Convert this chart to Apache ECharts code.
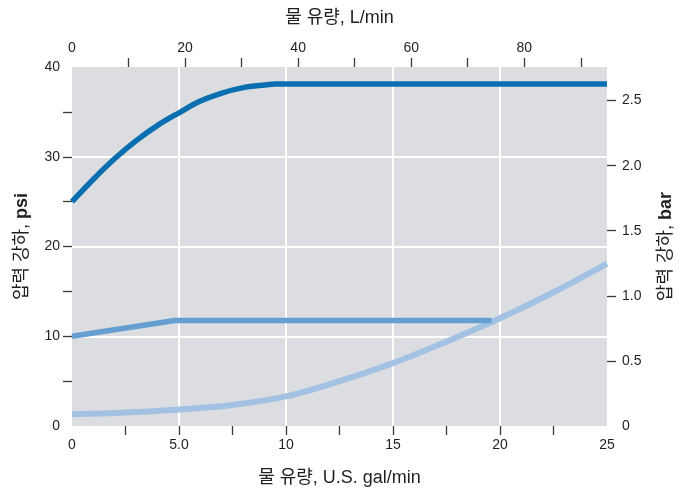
<!DOCTYPE html>
<html>
<head>
<meta charset="utf-8">
<script src="https://cdn.jsdelivr.net/npm/echarts@6/dist/echarts.min.js"></script>
<style>html,body{margin:0;padding:0;background:#fff}#c{width:687px;height:492px}</style>
</head>
<body>
<div id="c"></div>
<script>
// Flow rate (U.S. gal/min) and pressure drop (psi)
const darkX = [0, 1, 2, 3, 4, 5, 6, 7, 8, 9, 9.5, 25];
const darkY = [25.0, 27.5, 29.8, 31.8, 33.5, 34.9, 36.2, 37.1, 37.7, 38.0, 38.1, 38.1];
const midX = [0, 4.8, 19.6];
const midY = [10.0, 11.75, 11.75];
const lightX = [0, 2.5, 5, 7.5, 10, 12.5, 15, 17.5, 20, 22.5, 25];
const lightY = [1.3, 1.5, 1.85, 2.35, 3.3, 5.0, 7.0, 9.4, 12.0, 14.9, 18.1];

const galTicks = [2.5, 5, 7.5, 10, 12.5, 15, 17.5, 20, 22.5];
const galLabels = [0, 5, 10, 15, 20, 25];
const lpmTicks = [10, 20, 30, 40, 50, 60, 70, 80, 90];
const lpmLabels = [0, 20, 40, 60, 80];
const psiTicks = [5, 10, 15, 20, 25, 30, 35];
const psiLabels = [0, 10, 20, 30, 40];
const barTicks = [0.5, 1.0, 1.5, 2.0, 2.5];
const barLabels = [0, 0.5, 1.0, 1.5, 2.0, 2.5];

const GAL_MAX = 25, PSI_MAX = 40;
const LPM_MAX = GAL_MAX * 3.78541;
const BAR_MAX = PSI_MAX / 14.5038;

const FONT = "'Liberation Sans', 'Noto Sans CJK KR', sans-serif";
const labelStyle = {color: '#231f20', fontSize: 14, fontFamily: FONT};
const tickStyle = {show: true, length: 9, lineStyle: {color: '#3a3a3a', width: 1.3}};
const nameStyle = {color: '#231f20', fontSize: 18, fontFamily: FONT};
const richName = Object.assign({}, nameStyle, {
  rich: {b: {color: '#231f20', fontSize: 18, fontFamily: FONT, fontWeight: 'bold'}}
});
const noLine = {show: false, onZero: false};
const gridLine = {show: true, showMinLine: false, showMaxLine: false, lineStyle: {color: '#ffffff', width: 2}};

const pairs = (xs, ys) => xs.map((x, i) => [x, ys[i]]);

const chart = echarts.init(document.getElementById('c'), null, {renderer: 'canvas'});
chart.setOption({
  animation: false,
  grid: {left: 72, right: 80, top: 67, bottom: 65, show: true, backgroundColor: '#dcdde0', borderWidth: 0},
  xAxis: [
    {
      type: 'value', position: 'bottom', min: 0, max: GAL_MAX, interval: 5,
      name: '물 유량, U.S. gal/min', nameLocation: 'middle', nameGap: 43, nameTextStyle: nameStyle,
      axisLine: noLine,
      axisTick: Object.assign({customValues: galTicks}, tickStyle),
      axisLabel: Object.assign({customValues: galLabels, margin: 12,
        formatter: v => (v === 5 ? '5.0' : String(v))}, labelStyle),
      splitLine: {show: false}
    },
    {
      type: 'value', position: 'top', min: 0, max: LPM_MAX, interval: 10,
      name: '물 유량, L/min', nameLocation: 'middle', nameGap: 40, nameTextStyle: nameStyle,
      axisLine: noLine,
      axisTick: Object.assign({customValues: lpmTicks}, tickStyle),
      axisLabel: Object.assign({customValues: lpmLabels, margin: 12}, labelStyle),
      splitLine: {show: false}
    },
    {
      type: 'value', position: 'bottom', min: 0, max: GAL_MAX, interval: 5,
      axisLine: noLine, axisTick: {show: false}, axisLabel: {show: false},
      splitLine: gridLine
    }
  ],
  yAxis: [
    {
      type: 'value', position: 'left', min: 0, max: PSI_MAX, interval: 10,
      name: '압력 강하, {b|psi}', nameLocation: 'middle', nameGap: 41, nameRotate: 90,
      nameTextStyle: richName,
      axisLine: noLine,
      axisTick: Object.assign({customValues: psiTicks}, tickStyle),
      axisLabel: Object.assign({customValues: psiLabels, margin: 12}, labelStyle),
      splitLine: {show: false}
    },
    {
      type: 'value', position: 'right', min: 0, max: BAR_MAX, interval: 0.5,
      name: '압력 강하, {b|bar}', nameLocation: 'middle', nameGap: 50, nameRotate: 90,
      nameTextStyle: richName,
      axisLine: noLine,
      axisTick: Object.assign({customValues: barTicks}, tickStyle),
      axisLabel: Object.assign({customValues: barLabels, margin: 15,
        formatter: v => (v === 0 ? '0' : v.toFixed(1))}, labelStyle),
      splitLine: {show: false}
    },
    {
      type: 'value', position: 'left', min: 0, max: PSI_MAX, interval: 10,
      axisLine: noLine, axisTick: {show: false}, axisLabel: {show: false},
      splitLine: gridLine
    }
  ],
  series: [
    {type: 'line', name: 'light', data: pairs(lightX, lightY), smooth: 0.35, symbol: 'none',
     lineStyle: {color: '#a3c2e3', width: 6}, xAxisIndex: 0, yAxisIndex: 0},
    {type: 'line', name: 'mid', data: pairs(midX, midY), smooth: false, symbol: 'none',
     lineStyle: {color: '#659fd1', width: 5.5, cap: 'butt'}, xAxisIndex: 0, yAxisIndex: 0},
    {type: 'line', name: 'dark', data: pairs(darkX, darkY), smooth: 0.35, symbol: 'none',
     lineStyle: {color: '#0a6fb0', width: 5.5}, xAxisIndex: 0, yAxisIndex: 0}
  ]
});
</script>
</body>
</html>
